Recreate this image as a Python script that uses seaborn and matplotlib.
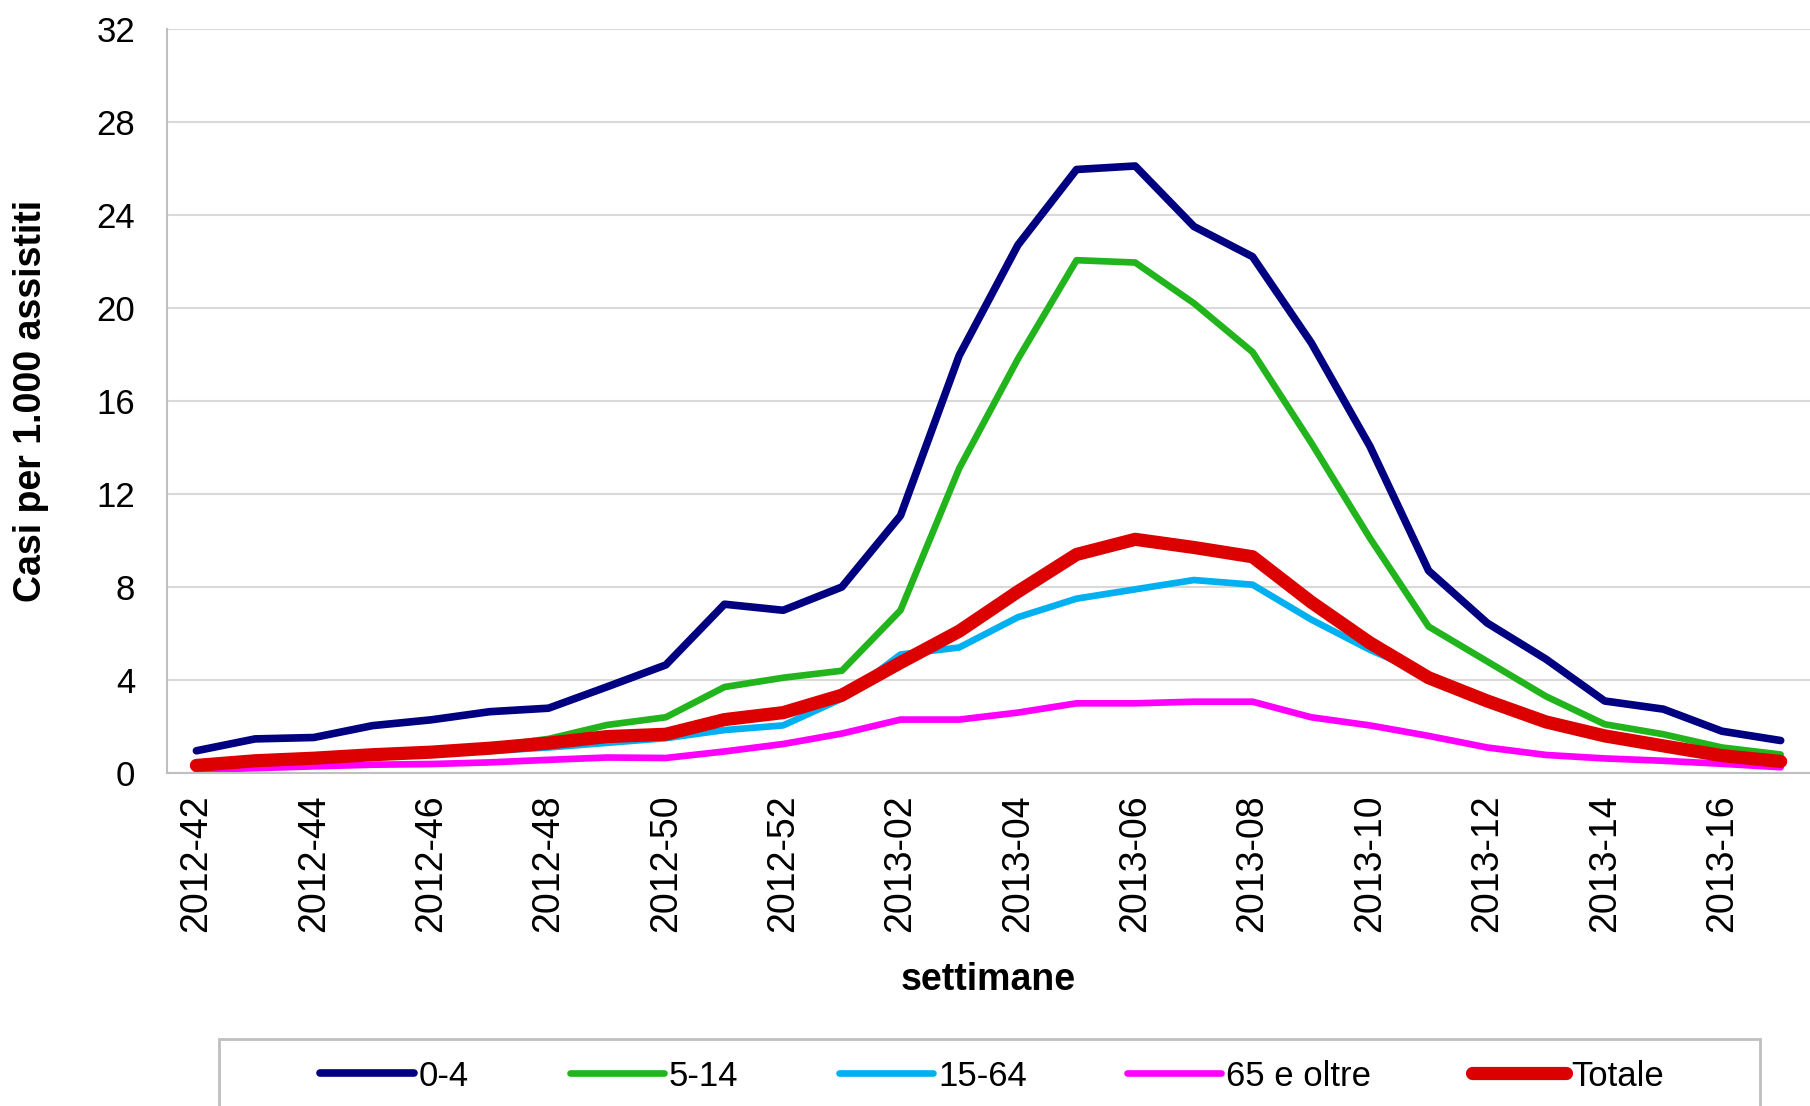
"""Influenza-like illness incidence by age group, season 2012-2013."""

import matplotlib

matplotlib.use("Agg")
import matplotlib.pyplot as plt
import seaborn as sns
from matplotlib.patches import Rectangle

# weeks 2012-42 .. 2013-17
weeks = [f"2012-{w}" for w in range(42, 53)] + [f"2013-{w:02d}" for w in range(1, 18)]

age_0_4 = [0.96, 1.47, 1.53, 2.04, 2.29, 2.64, 2.79, 3.71, 4.65, 7.26, 7.0, 8.0,
           11.07, 17.95, 22.7, 25.95, 26.1, 23.5, 22.2, 18.5, 14.05, 8.7, 6.45,
           4.9, 3.1, 2.75, 1.8, 1.4]
age_5_14 = [0.33, 0.53, 0.64, 0.79, 0.92, 1.14, 1.47, 2.07, 2.4, 3.7, 4.1, 4.4,
            7.0, 13.1, 17.8, 22.05, 21.95, 20.2, 18.1, 14.2, 10.1, 6.3, 4.8,
            3.3, 2.1, 1.67, 1.1, 0.8]
age_15_64 = [0.3, 0.45, 0.55, 0.7, 0.8, 0.95, 1.1, 1.3, 1.5, 1.85, 2.05, 3.2,
             5.1, 5.4, 6.7, 7.5, 7.9, 8.3, 8.1, 6.6, 5.3, 4.2, 3.05, 2.1, 1.5,
             1.1, 0.7, 0.45]
age_65_plus = [0.14, 0.21, 0.29, 0.36, 0.39, 0.46, 0.57, 0.67, 0.65, 0.93, 1.25,
               1.7, 2.3, 2.3, 2.6, 3.0, 3.0, 3.07, 3.07, 2.4, 2.05, 1.6, 1.1,
               0.78, 0.63, 0.53, 0.4, 0.25]
totale = [0.33, 0.53, 0.64, 0.79, 0.9, 1.07, 1.29, 1.57, 1.67, 2.3, 2.6, 3.35,
          4.75, 6.1, 7.8, 9.4, 10.05, 9.7, 9.3, 7.35, 5.6, 4.1, 3.1, 2.2, 1.6,
          1.17, 0.75, 0.5]

series_labels = ["0-4", "5-14", "15-64", "65 e oltre", "Totale"]
series_values = [age_0_4, age_5_14, age_15_64, age_65_plus, totale]
colors = ["#000080", "#22B41C", "#00B0F0", "#FF00FF", "#DD0000"]
widths = [5.5, 4.8, 4.8, 4.8, 9.5]

sns.set_style("white")
plt.rcParams["font.family"] = ["Liberation Sans", "DejaVu Sans"]
plt.rcParams["text.color"] = "black"
plt.rcParams["axes.labelcolor"] = "black"
plt.rcParams["xtick.labelcolor"] = "black"
plt.rcParams["ytick.labelcolor"] = "black"

fig = plt.figure(figsize=(18.1, 11.06), dpi=100)
ax = fig.add_axes([0.0923, 0.301, 0.9077, 0.673])

positions = list(range(len(weeks)))
for label, values, color, lw in zip(series_labels, series_values, colors, widths):
    sns.lineplot(x=positions, y=values, ax=ax, color=color, linewidth=lw,
                 label=label, solid_capstyle="round", solid_joinstyle="round")

ax.set_xlim(-0.5, len(weeks) - 0.5)
ax.set_ylim(0, 32)
ax.set_yticks(range(0, 33, 4))
ax.yaxis.grid(True, color="#d9d9d9", linewidth=1.5)
ax.xaxis.grid(False)

ax.set_xticks(positions[::2])
ax.set_xticklabels(weeks[::2], rotation=90)
ax.set_xticks([p - 0.5 for p in positions] + [len(weeks) - 0.5], minor=True)
ax.tick_params(axis="x", which="major", length=0, pad=15, labelsize=27)
ax.tick_params(axis="x", which="minor", length=9, color="#bfbfbf", width=1.5)
ax.tick_params(axis="y", length=7, color="#bfbfbf", width=1.5, pad=16, labelsize=25)

for side in ["top", "right"]:
    ax.spines[side].set_visible(False)
for side in ["left", "bottom"]:
    ax.spines[side].set_color("#bfbfbf")
    ax.spines[side].set_linewidth(1.5)

ax.set_ylabel("Casi per 1.000 assistiti", fontsize=27, fontweight="bold", labelpad=34)
ax.set_xlabel("settimane", fontsize=27, fontweight="bold", labelpad=22)

handles, labels = ax.get_legend_handles_labels()
ax.get_legend().remove()
fig.legend(handles, labels, ncol=5, loc="center", frameon=False,
           bbox_to_anchor=(0.548, 1 - 1076 / 1106), fontsize=25,
           handlelength=2.7, handletextpad=0.15, columnspacing=2.9)
fig.patches.append(Rectangle((219 / 1810, -0.02), (1760 - 219) / 1810, 0.02 + 1 - 1039 / 1106,
                             transform=fig.transFigure, fill=False,
                             edgecolor="#bfbfbf", linewidth=2))

fig.savefig("out.png", dpi=100)
